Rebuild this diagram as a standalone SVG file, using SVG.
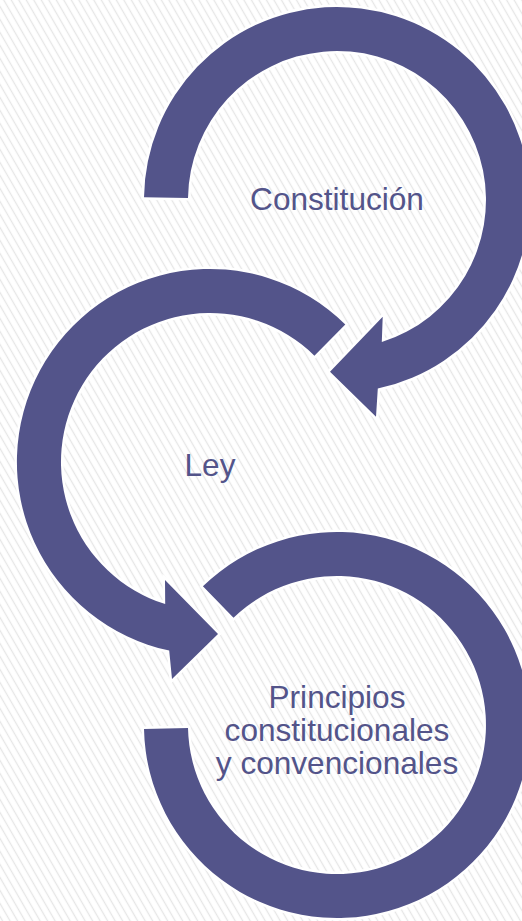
<svg xmlns="http://www.w3.org/2000/svg" width="522" height="921" viewBox="0 0 522 921">
  <defs>
    <pattern id="hatch" patternUnits="userSpaceOnUse" width="6.5" height="6.5" patternTransform="rotate(-30)">
      <line x1="3.25" y1="-1" x2="3.25" y2="7.5" stroke="#e6e6e6" stroke-width="1.3"/>
    </pattern>
  </defs>
  <style>
    .arc { fill: #53548A; stroke: #FFFFFF; stroke-width: 5; paint-order: stroke; stroke-linejoin: miter; }
    .lbl { font-family: "Liberation Sans", Arial, sans-serif; font-size: 31.6px; fill: #53548A; text-anchor: middle; }
  </style>
  <rect width="522" height="921" fill="#FFFFFF"/>
  <rect width="522" height="921" fill="url(#hatch)"/>
  <g id="connectors"></g>
  <g id="node-constitucion">
    <path class="arc" d="M 144,197.3 A 193 193 0 1 1 377.8,388.6 L 376,416.7 L 330,371.7 L 382.7,316.7 L 381.8,342.1 A 149 149 0 1 0 188,197.9 Z"/>
    <text class="lbl" x="337" y="210">Constitución</text>
  </g>
  <g id="node-ley">
    <path class="arc" d="M 345.3,324.4 A 193 193 0 1 0 169.2,650.6 L 172,679 L 218,634 L 165,580 L 165.2,604.1 A 149 149 0 1 1 314.4,355.7 Z"/>
    <text class="lbl" x="210" y="476">Ley</text>
  </g>
  <g id="node-principios">
    <path class="arc" d="M 202.9,586.2 A 193 193 0 1 1 144,729 L 188,728.1 A 149 149 0 1 0 233.5,617.8 Z"/>
    <text class="lbl" x="337" y="708">Principios</text>
    <text class="lbl" x="337" y="741">constitucionales</text>
    <text class="lbl" x="337" y="774">y convencionales</text>
  </g>
</svg>
